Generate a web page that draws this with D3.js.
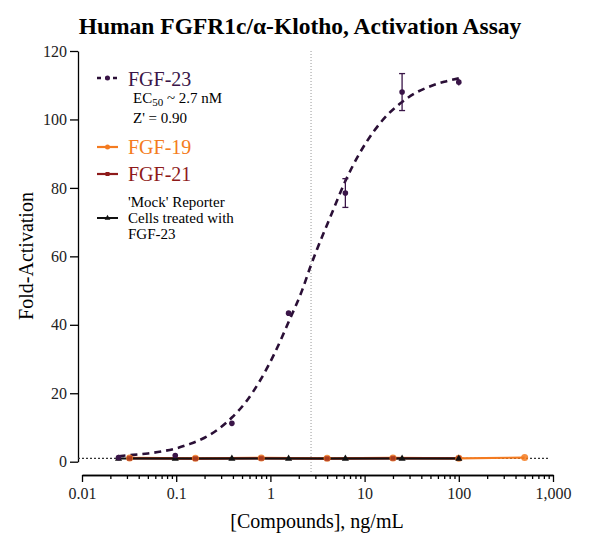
<!DOCTYPE html>
<html>
<head>
<meta charset="utf-8">
<script src="https://cdn.jsdelivr.net/npm/d3@7"></script>
<style>
  body { margin: 0; background: #fff; }
  svg { display: block; }
  svg text { font-family: "Liberation Serif", "Times New Roman", serif !important; }
  .axis path, .axis line { stroke: #000; stroke-width: 1.3; }
  .axis text { font-size: 16px; fill: #222; }
</style>
</head>
<body>
<div id="container"></div>
<script>
// FGF-23 on FGFR1c/a-Klotho cells (4-fold dilution from 100 ng/mL)
var fgf23Dose = [0.0244, 0.0977, 0.39, 1.56, 6.25, 25, 100];
var fgf23Mean = [1.2, 1.8, 11.2, 43.4, 78.5, 108.0, 110.9];
var fgf23Err  = [0.3, 0.3, 0.4, 0.6, 4.2, 5.4, 1.0];

// fitted curve for FGF-23
var fitDose = [0.0244, 0.035, 0.05, 0.07, 0.1, 0.14, 0.2, 0.28, 0.39, 0.55, 0.78, 1.1, 1.56, 2.2, 2.7, 3.13, 4.4, 6.25, 8.8, 12.5, 17.7, 25, 35, 50, 70, 100];
var fitValue = [1.6, 2.0, 2.4, 3.0, 3.9, 5.2, 7.0, 9.5, 12.9, 17.5, 23.8, 31.5, 40.8, 50.5, 57.5, 62.1, 72.0, 82.0, 90.0, 96.5, 101.5, 105.1, 107.8, 109.7, 111.0, 112.0];

// FGF-19 and FGF-21 (5-fold dilution)
var fgf19Dose = [0.032, 0.16, 0.8, 4, 20, 100, 500];
var fgf19Mean = [1.1, 1.0, 1.1, 1.0, 1.1, 1.0, 1.2];
var fgf21Dose = [0.032, 0.16, 0.8, 4, 20, 100];
var fgf21Mean = [1.0, 0.9, 1.0, 0.9, 1.0, 1.0];

// 'Mock' reporter cells treated with FGF-23
var mockDose = [0.0244, 0.0977, 0.39, 1.56, 6.25, 25, 100];
var mockMean = [0.9, 0.9, 0.9, 0.9, 0.9, 0.9, 0.9];

var ec50 = 2.7;
var baseline = 1;

var yTicks = [0, 20, 40, 60, 80, 100, 120];
var xMajor = [0.01, 0.1, 1, 10, 100, 1000];
var xLabels = ["0.01", "0.1", "1", "10", "100", "1,000"];

var colors = { fgf23: "#3a1548", fgf19: "#f47b20", fgf21: "#8e1a1a", mock: "#111" };

var width = 600, height = 542;
var serif = "'Liberation Serif', 'Times New Roman', serif";

var svg = d3.select("#container").append("svg")
    .attr("width", width)
    .attr("height", height)
    .attr("font-family", serif);

//Scales
var x = d3.scaleLog().domain([0.01, 1000]).range([82, 553]);
var y = d3.scaleLinear().domain([0, 120]).range([461.7, 51]);

//Title
svg.append("text")
    .attr("x", 300).attr("y", 34)
    .attr("text-anchor", "middle")
    .style("font-size", "23.5px")
    .style("font-weight", "bold")
    .text("Human FGFR1c/\u03B1-Klotho, Activation Assay");

//Y axis
svg.append("g")
    .attr("class", "axis")
    .attr("transform", "translate(78,0)")
    .call(d3.axisLeft(y).tickValues(yTicks).tickSize(8).tickSizeOuter(0).tickPadding(3))
    .attr("font-family", serif);

//X axis: minor ticks then major ticks with labels
var minor = [];
xMajor.slice(0, -1).forEach(function(d) {
    for (var k = 2; k < 10; k++) minor.push(d * k);
});
svg.append("g")
    .attr("class", "axis")
    .attr("transform", "translate(0,475)")
    .call(d3.axisBottom(x).tickValues(minor).tickSize(4).tickSizeOuter(0).tickFormat(""));
svg.append("g")
    .attr("class", "axis")
    .attr("transform", "translate(0,475)")
    .call(d3.axisBottom(x).tickValues(xMajor).tickSize(7).tickSizeOuter(0).tickPadding(6)
        .tickFormat(function(d, i) { return xLabels[i]; }))
    .attr("font-family", serif);

svg.selectAll(".axis text").style("font-family", serif);

//Axis titles
svg.append("text")
    .attr("transform", "translate(33,256) rotate(-90)")
    .attr("text-anchor", "middle")
    .style("font-size", "20px")
    .text("Fold-Activation");
svg.append("text")
    .attr("x", 317).attr("y", 528)
    .attr("text-anchor", "middle")
    .style("font-size", "20px")
    .text("[Compounds], ng/mL");

//Reference lines
svg.append("line")
    .attr("x1", x(ec50)).attr("x2", x(ec50))
    .attr("y1", y(120)).attr("y2", 473)
    .attr("stroke", "#999").attr("stroke-width", 1)
    .attr("stroke-dasharray", "1,2");
svg.append("line")
    .attr("x1", 78).attr("x2", 550)
    .attr("y1", y(baseline)).attr("y2", y(baseline))
    .attr("stroke", "#333").attr("stroke-width", 1.2)
    .attr("stroke-dasharray", "2,2");

var line = d3.line()
    .x(function(d) { return x(d[0]); })
    .y(function(d) { return y(d[1]); });

function pairs(xs, ys) { return xs.map(function(v, i) { return [v, ys[i]]; }); }

var plot = svg.append("g").attr("class", "features");

//Connecting lines
plot.append("path").datum(pairs(fgf19Dose, fgf19Mean))
    .attr("d", line).attr("fill", "none").attr("stroke", colors.fgf19).attr("stroke-width", 2.2);
plot.append("path").datum(pairs(fgf21Dose, fgf21Mean))
    .attr("d", line).attr("fill", "none").attr("stroke", colors.fgf21).attr("stroke-width", 2.2);
plot.append("path").datum(pairs(mockDose, mockMean))
    .attr("d", line).attr("fill", "none").attr("stroke", colors.mock).attr("stroke-width", 2);

//FGF-23 fit
plot.append("path").datum(pairs(fitDose, fitValue))
    .attr("d", line.curve(d3.curveMonotoneX))
    .attr("fill", "none").attr("stroke", "#2a0f36").attr("stroke-width", 2.6)
    .attr("stroke-dasharray", "7,5");
line.curve(d3.curveLinear);

//Markers
plot.selectAll("circle.f19").data(pairs(fgf19Dose, fgf19Mean)).enter()
    .append("circle").attr("class", "f19")
    .attr("cx", function(d) { return x(d[0]); }).attr("cy", function(d) { return y(d[1]); })
    .attr("r", 3.5).attr("fill", colors.fgf19).attr("opacity", 0.85);
plot.selectAll("rect.f21").data(pairs(fgf21Dose, fgf21Mean)).enter()
    .append("rect").attr("class", "f21")
    .attr("x", function(d) { return x(d[0]) - 2.5; }).attr("y", function(d) { return y(d[1]) - 2.5; })
    .attr("width", 5).attr("height", 5).attr("fill", colors.fgf21).attr("opacity", 0.6);
var tri = d3.symbol().type(d3.symbolTriangle).size(22);
plot.selectAll("path.mock").data(pairs(mockDose, mockMean)).enter()
    .append("path").attr("class", "mock")
    .attr("transform", function(d) { return "translate(" + x(d[0]) + "," + y(d[1]) + ")"; })
    .attr("d", tri).attr("fill", colors.mock);

//FGF-23 error bars and points
var f23 = fgf23Dose.map(function(d, i) { return { dose: d, mean: fgf23Mean[i], err: fgf23Err[i] }; });
var eb = plot.selectAll("g.eb").data(f23).enter().append("g").attr("class", "eb")
    .attr("stroke", colors.fgf23).attr("stroke-width", 1.3);
eb.append("line")
    .attr("x1", function(d) { return x(d.dose); }).attr("x2", function(d) { return x(d.dose); })
    .attr("y1", function(d) { return y(d.mean + d.err); }).attr("y2", function(d) { return y(d.mean - d.err); });
eb.filter(function(d) { return d.err > 2; }).append("line")
    .attr("x1", function(d) { return x(d.dose) - 3; }).attr("x2", function(d) { return x(d.dose) + 3; })
    .attr("y1", function(d) { return y(d.mean + d.err); }).attr("y2", function(d) { return y(d.mean + d.err); });
eb.filter(function(d) { return d.err > 2; }).append("line")
    .attr("x1", function(d) { return x(d.dose) - 3; }).attr("x2", function(d) { return x(d.dose) + 3; })
    .attr("y1", function(d) { return y(d.mean - d.err); }).attr("y2", function(d) { return y(d.mean - d.err); });
plot.selectAll("circle.f23").data(f23).enter()
    .append("circle").attr("class", "f23")
    .attr("cx", function(d) { return x(d.dose); }).attr("cy", function(d) { return y(d.mean); })
    .attr("r", 2.8).attr("fill", colors.fgf23);

//Legend
var legend = svg.append("g").attr("class", "legend");
var lx1 = 97, lx2 = 118, tx = 128;

legend.append("line").attr("x1", lx1).attr("x2", lx2).attr("y1", 78).attr("y2", 78)
    .attr("stroke", "#2a0f36").attr("stroke-width", 2.6).attr("stroke-dasharray", "4,4");
legend.append("circle").attr("cx", 107.5).attr("cy", 78).attr("r", 2.5).attr("fill", colors.fgf23);
legend.append("text").attr("x", tx).attr("y", 86).style("font-size", "20px")
    .attr("fill", colors.fgf23).text("FGF-23");
var ecText = legend.append("text").attr("x", 133).attr("y", 103).style("font-size", "15px");
ecText.append("tspan").text("EC");
ecText.append("tspan").attr("dy", 3).style("font-size", "11px").text("50");
ecText.append("tspan").attr("dy", -3).text(" ~ 2.7 nM");
legend.append("text").attr("x", 133).attr("y", 123).style("font-size", "15px").text("Z' = 0.90");

legend.append("line").attr("x1", lx1).attr("x2", lx2).attr("y1", 147).attr("y2", 147)
    .attr("stroke", colors.fgf19).attr("stroke-width", 2.2);
legend.append("circle").attr("cx", 107.5).attr("cy", 147).attr("r", 2.5).attr("fill", colors.fgf19);
legend.append("text").attr("x", tx).attr("y", 154).style("font-size", "20px")
    .attr("fill", colors.fgf19).text("FGF-19");

legend.append("line").attr("x1", lx1).attr("x2", lx2).attr("y1", 174).attr("y2", 174)
    .attr("stroke", colors.fgf21).attr("stroke-width", 2.2);
legend.append("rect").attr("x", 105.5).attr("y", 172).attr("width", 4).attr("height", 4).attr("fill", colors.fgf21);
legend.append("text").attr("x", tx).attr("y", 181).style("font-size", "20px")
    .attr("fill", colors.fgf21).text("FGF-21");

legend.append("line").attr("x1", lx1).attr("x2", lx2).attr("y1", 218).attr("y2", 218)
    .attr("stroke", colors.mock).attr("stroke-width", 2);
legend.append("path").attr("transform", "translate(107.5,218)")
    .attr("d", d3.symbol().type(d3.symbolTriangle).size(14)).attr("fill", colors.mock);
["'Mock' Reporter", "Cells treated with", "FGF-23"].forEach(function(t, i) {
    legend.append("text").attr("x", tx).attr("y", 207 + i * 16).style("font-size", "15px").text(t);
});
</script>
</body>
</html>
